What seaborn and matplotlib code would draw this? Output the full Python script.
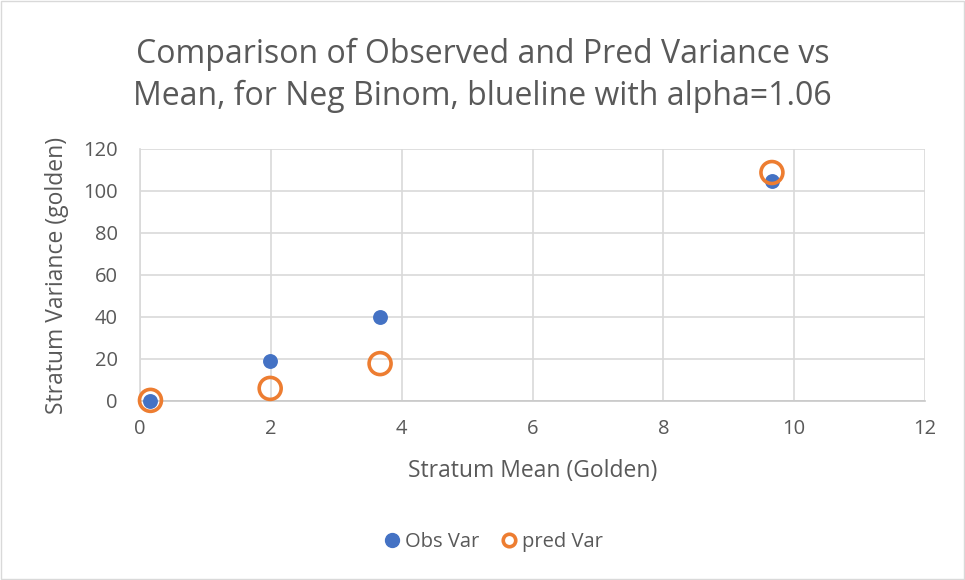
import matplotlib
matplotlib.use("Agg")
import matplotlib.pyplot as plt
import seaborn as sns
import pandas as pd
from matplotlib.lines import Line2D

stratum_mean = [0.16, 1.99, 3.67, 9.66]
obs_var = [0.1, 19.2, 40.1, 105.0]
pred_var = [0.3, 6.0, 17.8, 108.8]
x_ticks = [0, 2, 4, 6, 8, 10, 12]
y_ticks = [0, 20, 40, 60, 80, 100, 120]

sns.set_theme(style="white")
plt.rcParams['font.family'] = ['Open Sans', 'DejaVu Sans']

df = pd.DataFrame({"mean": stratum_mean, "obs": obs_var, "pred": pred_var})

fig = plt.figure(figsize=(9.65, 5.8), dpi=100)
ax = fig.add_axes([140/965, 1-401/580, (925-140)/965, (401-149)/580])

grey = "#595959"
grid = "#D9D9D9"
blue = "#4472C4"
orange = "#ED7D31"

sns.scatterplot(data=df, x="mean", y="obs", ax=ax, color=blue, s=115,
                edgecolor=blue, linewidth=0, zorder=3, clip_on=False)
sns.scatterplot(data=df, x="mean", y="pred", ax=ax, facecolor="none",
                edgecolor=orange, s=250, linewidth=2.6, zorder=4, clip_on=False)

ax.set_xlim(0, 12)
ax.set_ylim(0, 120)
ax.set_xticks(x_ticks)
ax.set_yticks(y_ticks)
ax.grid(True, color=grid, linewidth=1.2)
ax.set_axisbelow(True)
for s in ["top", "right"]:
    ax.spines[s].set_visible(False)
ax.spines["left"].set_color(grid)
ax.spines["left"].set_linewidth(1.2)
ax.spines["bottom"].set_color("#C8C8C8")
ax.spines["bottom"].set_linewidth(1.2)
ax.tick_params(axis="both", length=0, labelsize=14.5, colors=grey)
ax.tick_params(axis="y", pad=16)
ax.tick_params(axis="x", pad=13)
ax.set_xlabel("Stratum Mean (Golden)", fontsize=16.5, color=grey)
ax.set_ylabel("Stratum Variance (golden)", fontsize=16.5, color=grey)
ax.xaxis.set_label_coords(0.5, -(471-401)/252)
ax.xaxis.label.set_va("center")
ax.yaxis.set_label_coords(-(140-57)/785, 0.5)
ax.yaxis.label.set_va("center")

fig.text(0.5, 1-75/580, "Comparison of Observed and Pred Variance vs\nMean, for Neg Binom, blueline with alpha=1.06",
         ha="center", va="center", fontsize=23, color=grey, linespacing=1.35)

handles = [
    Line2D([], [], marker="o", linestyle="none", markersize=10, markerfacecolor=blue,
           markeredgecolor=blue, label="Obs Var"),
    Line2D([], [], marker="o", linestyle="none", markersize=9, markerfacecolor="none",
           markeredgecolor=orange, markeredgewidth=2.6, label="pred Var"),
]
leg = fig.legend(handles=handles, loc="center", bbox_to_anchor=(491/965, 1-542/580), ncol=2,
                 frameon=False, fontsize=14.5, handletextpad=0.0, columnspacing=0.8,
                 handlelength=1.3)
for t in leg.get_texts():
    t.set_color(grey)

border = plt.Rectangle((0.001, 0.001), 0.998, 0.998, transform=fig.transFigure,
                       fill=False, edgecolor="#D9D9D9", linewidth=1)
fig.patches.append(border)

fig.savefig("out.png", dpi=100)
